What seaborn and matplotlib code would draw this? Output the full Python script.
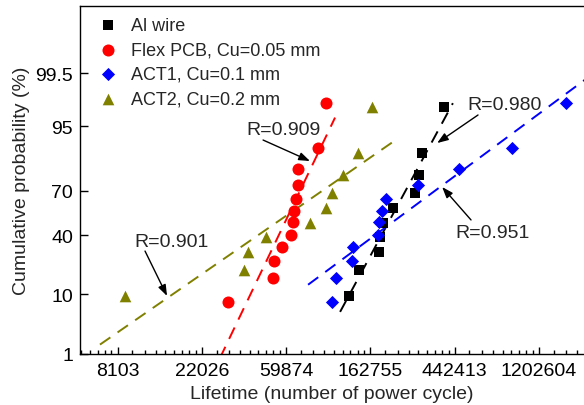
import numpy as np
import pandas as pd
import matplotlib
matplotlib.use("Agg")
import matplotlib.pyplot as plt
import matplotlib.ticker as mticker
import seaborn as sns
from statistics import NormalDist

# ---------------- data ----------------
series_names = ["Al wire", "Flex PCB, Cu=0.05 mm", "ACT1, Cu=0.1 mm", "ACT2, Cu=0.2 mm"]

al_life = [126300, 142300, 180500, 181500, 189400, 213300, 276700, 290200, 300800, 390600]
al_prob = [9.43, 19.46, 29.23, 38.78, 48.37, 58.74, 68.53, 78.71, 88.11, 97.63]

flex_life = [30000, 51300, 51800, 57000, 63500, 65000, 65800, 67300, 69000, 69000, 87400, 96100]
flex_prob = [7.79, 15.88, 24.11, 32.33, 40.16, 49.11, 56.73, 64.76, 73.34, 81.66, 89.77, 98.00]

act1_life = [103300, 108300, 131000, 132600, 178400, 180500, 187100, 196200, 286800, 466800, 874600, 1660000]
act1_prob = [7.79, 15.88, 24.11, 32.33, 40.16, 49.11, 56.73, 64.76, 73.34, 81.66, 89.77, 98.00]

act2_life = [8840, 36350, 38100, 47200, 79500, 96100, 103300, 117700, 140600, 166200]
act2_prob = [9.43, 19.46, 29.23, 38.78, 48.37, 58.74, 68.53, 78.71, 88.11, 97.63]

r_labels = ["R=0.980", "R=0.909", "R=0.951", "R=0.901"]

x_tick_exponents = [9, 10, 11, 12, 13, 14]
y_ticks = [1, 10, 40, 70, 95, 99.5]
y_tick_labels = ["1", "10", "40", "70", "95", "99.5"]

# ---------------- style ----------------
sns.set_theme(style="ticks")
plt.rcParams["font.family"] = ["Liberation Sans", "DejaVu Sans"]
plt.rcParams["axes.linewidth"] = 1.0

colors = ["#000000", "#ff0000", "#0000ff", "#808000"]
markers = ["s", "o", "D", "^"]
sizes = [55, 75, 45, 70]

lifes = [al_life, flex_life, act1_life, act2_life]
probs = [al_prob, flex_prob, act1_prob, act2_prob]

# fit-line extents (lifetime range)
fit_ranges = [(113600, 433000), (27300, 107000), (77700, 4.0e6), (6580, 218500)]

# annotation: (text pos), (arrow tail), (arrow head) in data coords
annots = [
    ((803600, 97.91), (583500, 96.74), (359300, 91.22)),
    ((58400, 94.5), (45560, 92.03), (79480, 85.1)),
    ((696500, 42.15), (537000, 50.5), (381200, 72.15)),
    ((15470, 35.5), (11230, 29.8), (14580, 9.45)),
]

nd = NormalDist()
_ppf = np.vectorize(nd.inv_cdf, otypes=[float])
_cdf = np.vectorize(nd.cdf, otypes=[float])


def fwd(p):
    p = np.clip(np.asarray(p, dtype=float) / 100.0, 1e-12, 1 - 1e-12)
    return _ppf(p)


def inv(z):
    return _cdf(np.asarray(z, dtype=float)) * 100.0


fig = plt.figure(figsize=(5.84, 4.06), dpi=100)
ax = fig.add_axes([80 / 584, 51 / 406, 504 / 584, 348 / 406])

ax.set_xscale("log", base=np.e)
ax.set_yscale("function", functions=(fwd, inv))

# fit lines
for life, prob, col, (lo, hi) in zip(lifes, probs, colors, fit_ranges):
    lx = np.log(np.asarray(life, float))
    z = fwd(prob)
    a, b = np.polyfit(lx, z, 1)
    xs = np.geomspace(lo, hi, 60)
    ys = inv(a * np.log(xs) + b)
    ax.plot(xs, ys, color=col, lw=1.4, dashes=(6.5, 4.5), zorder=2)

# points
for name, life, prob, col, mk, sz in zip(series_names, lifes, probs, colors, markers, sizes):
    df = pd.DataFrame({"life": life, "prob": prob})
    sns.scatterplot(data=df, x="life", y="prob", color=col, marker=mk, s=sz,
                    linewidth=0, label=name, ax=ax, zorder=3)

# annotations
for txt, (tpos, tail, head) in zip(r_labels, annots):
    ax.text(tpos[0], tpos[1], txt, ha="center", va="center", fontsize=14)
    ax.annotate("", xy=head, xytext=tail,
                arrowprops=dict(arrowstyle="-|>,head_length=0.55,head_width=0.2",
                                color="black", lw=1.0, shrinkA=0, shrinkB=0))

# axes limits
ax.set_xlim(np.exp(8.555), np.exp(14.534))
ax.set_ylim(1, 99.991)

# x ticks
major = [np.exp(k) for k in x_tick_exponents]
ax.xaxis.set_major_locator(mticker.FixedLocator(major))
ax.xaxis.set_major_formatter(mticker.FixedFormatter([f"{m:.0f}" for m in major]))
minor = []
for k in range(8, 15):
    a0, a1 = np.exp(k), np.exp(k + 1)
    for j in range(1, 9):
        minor.append(a0 + j * (a1 - a0) / 9)
ax.xaxis.set_minor_locator(mticker.FixedLocator(minor))
ax.xaxis.set_minor_formatter(mticker.NullFormatter())

# y ticks
ax.yaxis.set_major_locator(mticker.FixedLocator(y_ticks))
ax.yaxis.set_major_formatter(mticker.FixedFormatter(y_tick_labels))
ax.yaxis.set_minor_locator(mticker.NullLocator())

ax.tick_params(axis="both", which="both", direction="in", colors="black", labelsize=14)
ax.tick_params(axis="x", which="major", length=5, width=1, pad=6)
ax.tick_params(axis="x", which="minor", length=2.8, width=1)
ax.tick_params(axis="y", which="major", length=6, width=1, pad=5)
ax.spines["right"].set_visible(False)
for s in ["left", "bottom", "top"]:
    ax.spines[s].set_color("black")

ax.set_xlabel("Lifetime (number of power cycle)", fontsize=14, labelpad=4)
ax.set_ylabel("Cumulative probability (%)", fontsize=14, labelpad=4)

leg = ax.legend(loc="upper left", bbox_to_anchor=(0.02, 0.99), frameon=False,
                fontsize=13, handletextpad=0.65, labelspacing=0.42,
                borderaxespad=0.0, handlelength=1.2)

fig.savefig("out.png", dpi=100)
